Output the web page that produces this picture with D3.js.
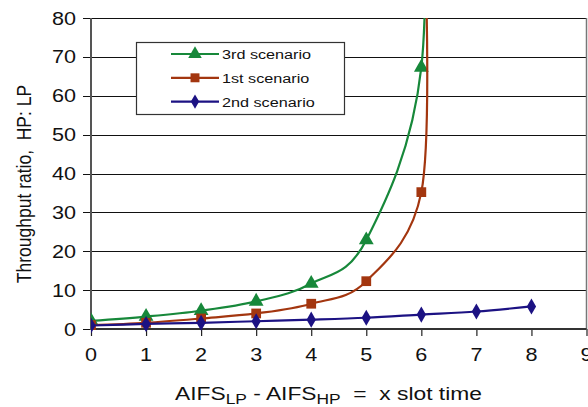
<!DOCTYPE html>
<html lang="en">
<head>
<meta charset="UTF-8">
<title>Throughput ratio</title>
<script src="https://d3js.org/d3.v7.min.js"></script>
<style>
  body { margin: 0; background: #fff; }
  text { font-family: "Liberation Sans", Arial, sans-serif; fill: #111; }
</style>
</head>
<body>
<script>
// values
const xTicks = [0, 1, 2, 3, 4, 5, 6, 7, 8, 9];
const yTicks = [0, 10, 20, 30, 40, 50, 60, 70, 80];

const thirdX = [0, 1, 2, 3, 4, 5, 6, 6.01];
const thirdY = [2.1, 3.2, 4.7, 7.1, 11.7, 22.9, 67.3, 150];
const firstX = [0, 1, 2, 3, 4, 5, 6, 6.08];
const firstY = [1.0, 1.6, 2.7, 4.0, 6.5, 12.3, 35.2, 90];
const secondX = [0, 1, 2, 3, 4, 5, 6, 7, 8];
const secondY = [0.9, 1.3, 1.6, 2.0, 2.4, 2.9, 3.7, 4.5, 5.8];

const series = [
  { name: "3rd scenario", xs: thirdX, ys: thirdY, color: "#17883a", marker: d3.symbolTriangle },
  { name: "1st scenario", xs: firstX, ys: firstY, color: "#a3360f", marker: d3.symbolSquare },
  { name: "2nd scenario", xs: secondX, ys: secondY, color: "#1c1283", marker: d3.symbolDiamond }
];

const width = 588, height = 407;
const margin = { left: 91, right: 1.5, top: 18, bottom: 78 };
const stretch = 1.2; // the original picture is a bit wider than tall

const svg = d3.select("body").append("svg")
  .attr("width", width)
  .attr("height", height);

const x = d3.scaleLinear().domain([0, 9]).range([margin.left, width - margin.right]);
const y = d3.scaleLinear().domain([0, 80]).range([height - margin.bottom, margin.top]);

// text drawn wider, like in the source image
function wideText(g, tx, ty, size, anchor) {
  return g.append("text")
    .attr("transform", `translate(${tx},${ty}) scale(${stretch},1)`)
    .attr("text-anchor", anchor || "start")
    .attr("font-size", size);
}

// grid lines
svg.append("g")
  .selectAll("line")
  .data(yTicks)
  .join("line")
  .attr("x1", margin.left - 8)
  .attr("x2", width - margin.right)
  .attr("y1", d => Math.round(y(d)) + 0.5)
  .attr("y2", d => Math.round(y(d)) + 0.5)
  .attr("stroke", "#111")
  .attr("stroke-width", 1.2);

// y tick labels
const gy = svg.append("g");
yTicks.forEach(d => wideText(gy, margin.left - 15, y(d) + 6.5, 18, "end").text(d));

// x axis ticks
const xAxis = d3.axisBottom(x)
  .tickValues(xTicks)
  .tickSize(7)
  .tickFormat("");
const gx = svg.append("g")
  .attr("transform", `translate(0, ${y(0)})`)
  .call(xAxis);
gx.select(".domain").remove();
gx.selectAll(".tick line").attr("stroke", "#222").attr("stroke-width", 1.2);

const gxl = svg.append("g");
xTicks.forEach(d => wideText(gxl, x(d), y(0) + 32, 18, "middle").text(d));

// frame: left axis and right border
svg.append("line")
  .attr("x1", margin.left).attr("x2", margin.left)
  .attr("y1", margin.top).attr("y2", y(0) + 1)
  .attr("stroke", "#555").attr("stroke-width", 2);
svg.append("line")
  .attr("x1", width - margin.right).attr("x2", width - margin.right)
  .attr("y1", margin.top).attr("y2", y(0) + 1)
  .attr("stroke", "#777").attr("stroke-width", 1.5);
svg.append("line")
  .attr("x1", margin.left).attr("x2", width - margin.right)
  .attr("y1", y(0)).attr("y2", y(0))
  .attr("stroke", "#333").attr("stroke-width", 2);

// clip for the plotted lines
svg.append("clipPath").attr("id", "plot")
  .append("rect")
  .attr("x", margin.left).attr("y", margin.top)
  .attr("width", width - margin.left - margin.right)
  .attr("height", y(0) - margin.top + 8);

const line = d3.line()
  .x(d => x(d[0]))
  .y(d => y(d[1]))
  .curve(d3.curveCatmullRom.alpha(0));

const plot = svg.append("g").attr("clip-path", "url(#plot)");

series.forEach(s => {
  const pts = s.xs.map((v, i) => [v, s.ys[i]]);
  plot.append("path")
    .datum(pts)
    .attr("fill", "none")
    .attr("stroke", s.color)
    .attr("stroke-width", 2.2)
    .attr("d", line);
  plot.selectAll(null)
    .data(pts.filter(p => p[1] <= 80 && Number.isInteger(p[0])))
    .join("path")
    .attr("transform", p => `translate(${x(p[0])},${y(p[1])})`)
    .attr("d", d3.symbol().type(s.marker).size(s.marker === d3.symbolDiamond ? 75 : 95))
    .attr("fill", s.color);
});

// legend
const legend = svg.append("g");
legend.append("rect")
  .attr("x", 136.5).attr("y", 42.5)
  .attr("width", 208).attr("height", 72)
  .attr("fill", "#fff")
  .attr("stroke", "#333").attr("stroke-width", 1.2);

series.forEach((s, i) => {
  const ly = 54 + i * 23.8;
  legend.append("line")
    .attr("x1", 171).attr("x2", 219)
    .attr("y1", ly).attr("y2", ly)
    .attr("stroke", s.color).attr("stroke-width", 2.2);
  legend.append("path")
    .attr("transform", `translate(195,${ly})`)
    .attr("d", d3.symbol().type(s.marker).size(s.marker === d3.symbolDiamond ? 60 : 80))
    .attr("fill", s.color);
  wideText(legend, 222, ly + 5, 13.5).text(s.name);
});

// axis titles
const xt = wideText(svg, 175, 400, 19);
xt.append("tspan").text("AIFS");
xt.append("tspan").attr("font-size", 14.5).attr("dy", 4).text("LP");
xt.append("tspan").attr("dy", -4).text(" - AIFS");
xt.append("tspan").attr("font-size", 14.5).attr("dy", 4).text("HP");
xt.append("tspan").attr("dy", -4).attr("xml:space", "preserve").text("  =  x slot time");

svg.append("text")
  .attr("transform", `translate(31,184) rotate(-90) scale(1,${stretch})`)
  .attr("text-anchor", "middle")
  .attr("font-size", 17.5)
  .attr("xml:space", "preserve")
  .text("Throughput ratio,  HP: LP");
</script>
</body>
</html>
